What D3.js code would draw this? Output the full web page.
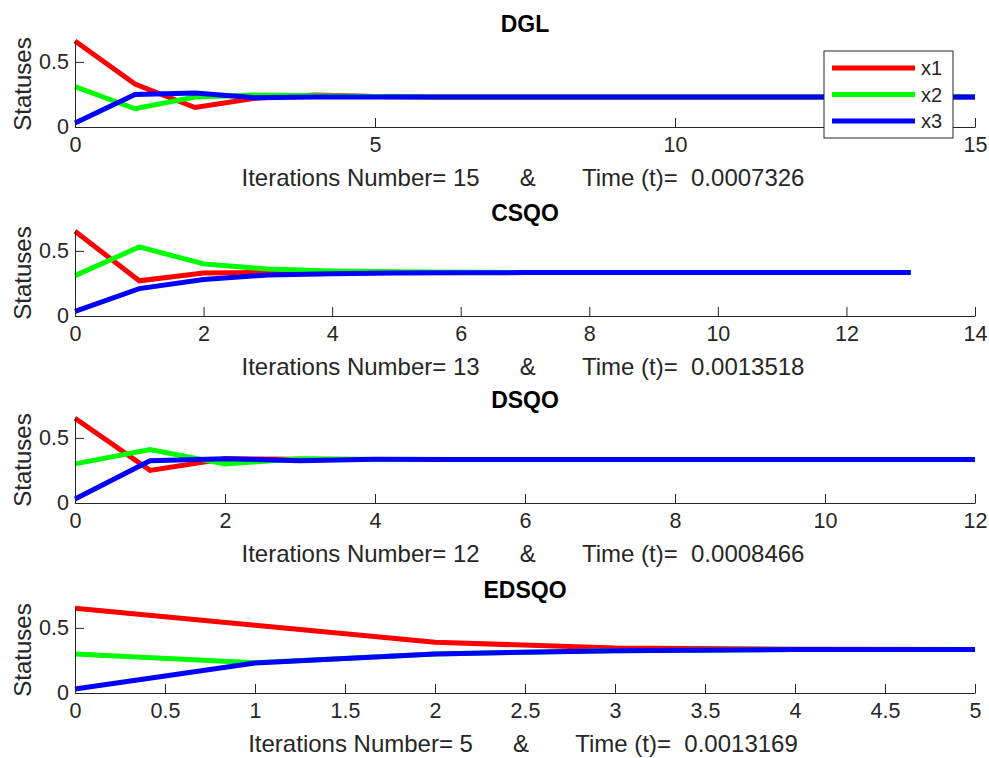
<!DOCTYPE html>
<html>
<head>
<meta charset="utf-8">
<script src="https://cdn.jsdelivr.net/npm/d3@7/dist/d3.min.js"></script>
<style>
  html, body { margin: 0; padding: 0; background: #fff; }
  svg { display: block; font-family: "Liberation Sans", Arial, Helvetica, sans-serif; }
</style>
</head>
<body>
<svg id="chart" width="989" height="758"></svg>
<script>
// ---- Data ----
const titles = ["DGL", "CSQO", "DSQO", "EDSQO"];
const seriesNames = ["x1", "x2", "x3"];
const seriesColors = ["#ff0000", "#00ff00", "#0000ff"];
const xMax = [15, 14, 12, 5];
const xTicks = [
  [0, 5, 10, 15],
  [0, 2, 4, 6, 8, 10, 12, 14],
  [0, 2, 4, 6, 8, 10, 12],
  [0, 0.5, 1, 1.5, 2, 2.5, 3, 3.5, 4, 4.5, 5]
];
const yTicks = [0, 0.5];
const iterations = [15, 13, 12, 5];
const times = ["0.0007326", "0.0013518", "0.0008466", "0.0013169"];

const dglX1 = [0.66, 0.33, 0.15, 0.22, 0.245, 0.235, 0.23, 0.23, 0.23, 0.23, 0.23, 0.23, 0.23, 0.23, 0.23, 0.23];
const dglX2 = [0.31, 0.14, 0.23, 0.245, 0.24, 0.235, 0.23, 0.23, 0.23, 0.23, 0.23, 0.23, 0.23, 0.23, 0.23, 0.23];
const dglX3 = [0.03, 0.25, 0.26, 0.225, 0.23, 0.23, 0.23, 0.23, 0.23, 0.23, 0.23, 0.23, 0.23, 0.23, 0.23, 0.23];

const csqoX1 = [0.65, 0.27, 0.33, 0.335, 0.334, 0.333, 0.333, 0.333, 0.333, 0.333, 0.333, 0.333, 0.333, 0.333];
const csqoX2 = [0.31, 0.53, 0.40, 0.36, 0.345, 0.34, 0.336, 0.334, 0.333, 0.333, 0.333, 0.333, 0.333, 0.333];
const csqoX3 = [0.035, 0.21, 0.28, 0.315, 0.325, 0.33, 0.332, 0.333, 0.333, 0.333, 0.333, 0.333, 0.333, 0.333];

const dsqoX1 = [0.65, 0.25, 0.34, 0.335, 0.333, 0.333, 0.333, 0.333, 0.333, 0.333, 0.333, 0.333, 0.333];
const dsqoX2 = [0.30, 0.41, 0.30, 0.34, 0.333, 0.333, 0.333, 0.333, 0.333, 0.333, 0.333, 0.333, 0.333];
const dsqoX3 = [0.03, 0.325, 0.34, 0.325, 0.335, 0.333, 0.333, 0.333, 0.333, 0.333, 0.333, 0.333, 0.333];

const edsqoX1 = [0.65, 0.52, 0.39, 0.345, 0.335, 0.333];
const edsqoX2 = [0.30, 0.233, 0.30, 0.325, 0.333, 0.333];
const edsqoX3 = [0.03, 0.23, 0.30, 0.325, 0.333, 0.333];

const panels = [
  [dglX1, dglX2, dglX3],
  [csqoX1, csqoX2, csqoX3],
  [dsqoX1, dsqoX2, dsqoX3],
  [edsqoX1, edsqoX2, edsqoX3]
];

// ---- Layout ----
const svg = d3.select("#chart");
const left = 75, right = 975;
const bottoms = [127, 316, 503, 693];
const plotH = 86;
const yMax = 0.66;
const axisColor = "#262626";
const tickFont = 21.5, labelFont = 24, titleFont = 23, legendFont = 20;

panels.forEach((series, i) => {
  const bottom = bottoms[i], top = bottom - plotH;
  const x = d3.scaleLinear().domain([0, xMax[i]]).range([left, right]);
  const y = d3.scaleLinear().domain([0, yMax]).range([bottom, top]);
  const g = svg.append("g");

  // lines
  const line = d3.line().x((d, k) => x(k)).y(d => y(d));
  series.forEach((vals, s) => {
    g.append("path").datum(vals)
      .attr("d", line)
      .attr("fill", "none")
      .attr("stroke", seriesColors[s])
      .attr("stroke-width", 5);
  });

  // x axis (ticks inward)
  const xa = g.append("g").attr("transform", `translate(0,${bottom})`)
    .call(d3.axisBottom(x).tickValues(xTicks[i]).tickFormat(d3.format("~g")).tickSizeInner(-9).tickSizeOuter(0));
  xa.select(".domain").attr("stroke", axisColor).attr("stroke-width", 1);
  xa.selectAll(".tick line").attr("stroke", axisColor);
  xa.selectAll(".tick text").attr("fill", axisColor).attr("font-size", tickFont)
    .attr("font-family", "Liberation Sans, Arial, sans-serif")
    .attr("dy", "0.71em").attr("y", 10);

  // y axis
  const ya = g.append("g").attr("transform", `translate(${left},0)`)
    .call(d3.axisLeft(y).tickValues(yTicks).tickFormat(d3.format("~g")).tickSizeInner(-9).tickSizeOuter(0));
  ya.select(".domain").attr("stroke", axisColor).attr("stroke-width", 1);
  ya.selectAll(".tick line").attr("stroke", axisColor);
  ya.selectAll(".tick text").attr("fill", axisColor).attr("font-size", tickFont)
    .attr("font-family", "Liberation Sans, Arial, sans-serif")
    .attr("x", -6);

  // title
  g.append("text").attr("x", (left + right) / 2).attr("y", top - 9)
    .attr("text-anchor", "middle").attr("font-size", titleFont).attr("font-weight", "bold")
    .attr("fill", "#000").text(titles[i]);

  // y label
  g.append("text")
    .attr("transform", `translate(31,${(top + bottom) / 2}) rotate(-90)`)
    .attr("text-anchor", "middle").attr("font-size", labelFont).attr("fill", axisColor)
    .text("Statuses");

  // x label
  g.append("text").attr("x", (left + right) / 2 - 2).attr("y", bottom + 59)
    .attr("text-anchor", "middle").attr("font-size", labelFont).attr("fill", axisColor)
    .style("white-space", "pre")
    .text(`Iterations Number= ${iterations[i]}      &       Time (t)=  ${times[i]}`);

  // legend on first panel
  if (i === 0) {
    const lg = g.append("g");
    lg.append("rect").attr("x", 824).attr("y", 51).attr("width", 129).attr("height", 87)
      .attr("fill", "#fff").attr("stroke", axisColor).attr("stroke-width", 1);
    seriesNames.forEach((n, s) => {
      const ly = 68 + s * 26.5;
      lg.append("line").attr("x1", 832).attr("x2", 915).attr("y1", ly).attr("y2", ly)
        .attr("stroke", seriesColors[s]).attr("stroke-width", 5);
      lg.append("text").attr("x", 921).attr("y", ly).attr("dy", "0.35em")
        .attr("font-size", legendFont).attr("fill", axisColor).text(n);
    });
  }
});
</script>
</body>
</html>
